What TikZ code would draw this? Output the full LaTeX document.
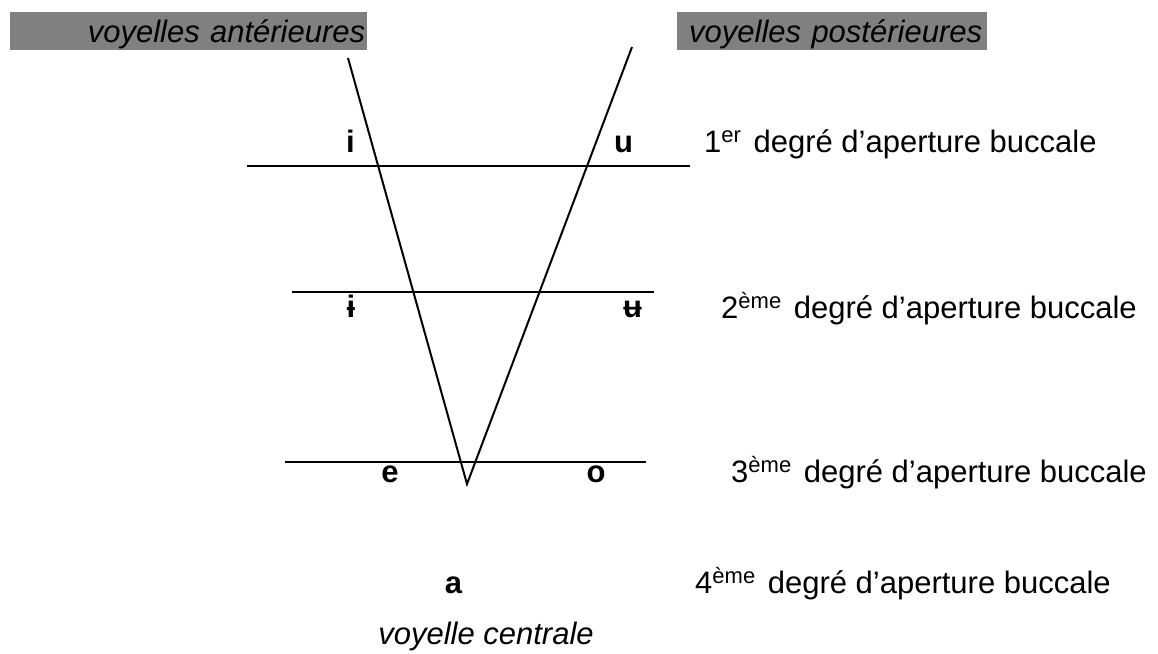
\documentclass[tikz,border=0pt]{standalone}
\usepackage{fontspec}
\setmainfont{Liberation Sans}
\definecolor{boxgrey}{RGB}{128,128,128}
\newcommand{\sups}[1]{\raisebox{10pt}{\fontsize{22}{24}\selectfont #1}\hspace{4pt}}
\begin{document}
\begin{tikzpicture}[x=1pt,y=-1pt,
  line/.style={line width=2pt, black},
  lbl/.style={inner sep=0pt, font=\fontsize{31}{37}\selectfont},
  vow/.style={inner sep=0pt, font=\fontsize{31}{37}\selectfont\bfseries, anchor=base},
  deg/.style={lbl, anchor=base west},
  greybox/.style={fill=boxgrey, inner ysep=0pt, inner xsep=2pt, minimum height=38pt,
    text height=30pt, text depth=8pt, font=\fontsize{31}{37}\selectfont\itshape, anchor=north west}]
\useasboundingbox (0,0) rectangle (1158,653);
% header boxes
\node[greybox, text width=353pt, align=right] (ant) at (10,12) {voyelles antérieures};
\node[greybox, text width=306pt, align=left] (post) at (677,12) {\hspace*{10pt}voyelles postérieures};
% coordinates
\coordinate (vl) at (348,58);
\coordinate (vb) at (467,484);
\coordinate (vr) at (632,47);
\coordinate (h1l) at (247,166); \coordinate (h1r) at (690,166);
\coordinate (h2l) at (292,292); \coordinate (h2r) at (654,292);
\coordinate (h3l) at (285,462); \coordinate (h3r) at (646,462);
% lines
\draw[line] (vl) -- (vb) -- (vr);
\draw[line] (h1l) -- (h1r);
\draw[line] (h2l) -- (h2r);
\draw[line] (h3l) -- (h3r);
% vowels
\node[vow] (i) at (350.5,152) {i};
\node[vow] (u) at (623.5,152) {u};
\node[vow] (ib) at (351,317) {ɨ};
\node[vow] (ub) at (632.5,317) {ʉ};
\node[vow] (e) at (390,482) {e};
\node[vow] (o) at (596,482) {o};
\node[vow] (a) at (453.5,593) {a};
% degree labels
\node[deg] (d1) at (704,152) {1\sups{er} degré d’aperture buccale};
\node[deg] (d2) at (721,318) {2\sups{ème} degré d’aperture buccale};
\node[deg] (d3) at (731,482) {3\sups{ème} degré d’aperture buccale};
\node[deg] (d4) at (695,593) {4\sups{ème} degré d’aperture buccale};
% bottom label
\node[lbl, font=\fontsize{31}{37}\selectfont\itshape, anchor=base] (vc) at (486,644) {voyelle centrale};
\end{tikzpicture}
\end{document}
